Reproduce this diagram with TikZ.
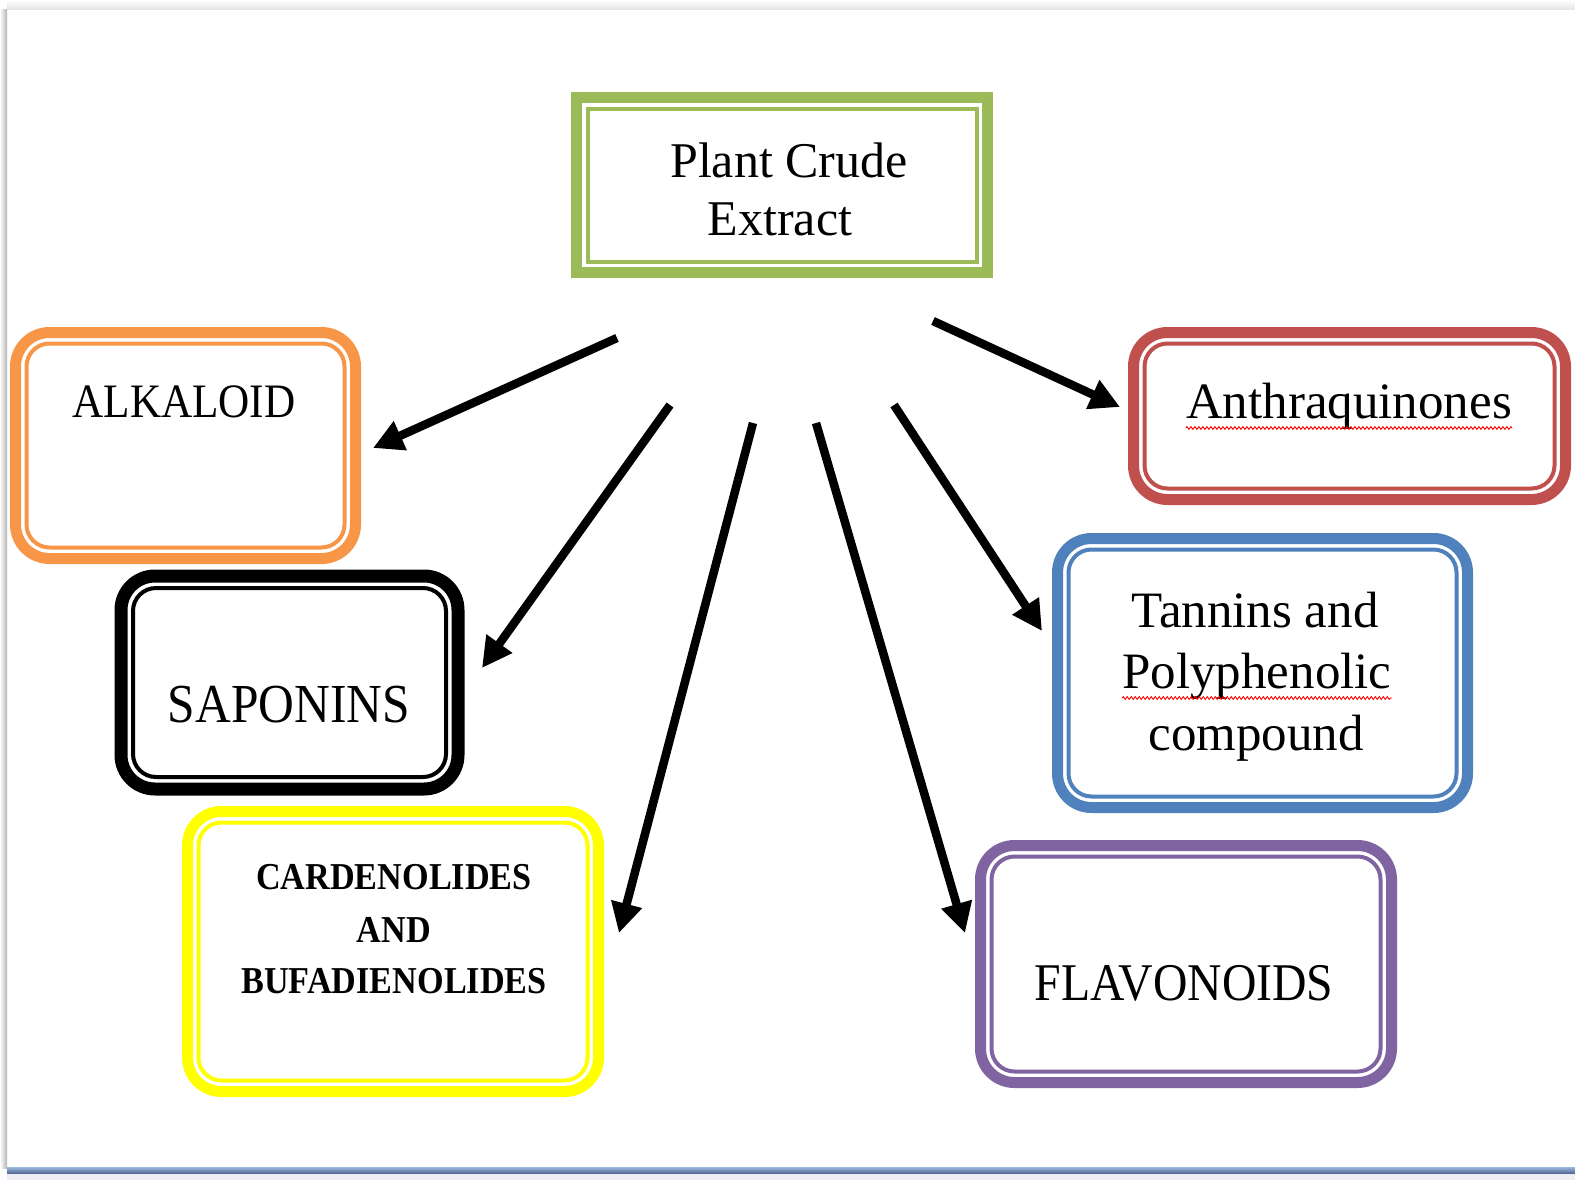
\documentclass[tikz,border=0pt]{standalone}
\usepackage{fontspec}
\setmainfont{Liberation Serif}
\newfontfamily\capsfont{Liberation Serif}[FakeStretch=0.9]
\usetikzlibrary{arrows.meta,decorations.pathmorphing}

\definecolor{cGreen}{HTML}{9BBB59}
\definecolor{cOrange}{HTML}{F79646}
\definecolor{cRed}{HTML}{C0504D}
\definecolor{cBlue}{HTML}{4F81BD}
\definecolor{cPurple}{HTML}{8064A2}
\definecolor{cYellow}{HTML}{FFFF00}
\definecolor{ruleLight}{HTML}{9DB9E0}
\definecolor{ruleDark}{HTML}{4A5F8A}
\definecolor{shelf}{HTML}{ECEEF3}

\tikzset{
  outerframe/.style={draw=#1, line width=11pt, rounded corners=34pt, inner sep=0pt, outer sep=0pt},
  innerframe/.style={draw=#1, line width=4pt, rounded corners=23pt},
  mixed/.style={font=\fontsize{#1}{#1}\selectfont, inner sep=0pt, anchor=base},
  capsT/.style={font=\capsfont\fontsize{#1}{#1}\selectfont, inner sep=0pt, anchor=base},
  capsB/.style={font=\capsfont\bfseries\fontsize{#1}{#1}\selectfont, inner sep=0pt, anchor=base},
  arr/.style={line width=8.5pt, -{Triangle[length=30pt,width=30pt]}},
  squig/.style={draw=red, line width=0.9pt, decorate,
    decoration={zigzag, segment length=4pt, amplitude=1.4pt}},
}

\begin{document}
\begin{tikzpicture}[x=1pt, y=-1pt]
  \useasboundingbox (0,0) rectangle (1575,1184);
  \fill[white] (0,0) rectangle (1575,1184);
  % page edges
  \shade[top color=white, bottom color=black!10] (7,0) rectangle (1575,9);
  \shade[left color=white, right color=black!30] (0,9) rectangle (7,1168);
  \shade[top color=ruleLight, bottom color=ruleDark] (7,1167) rectangle (1575,1174);
  \fill[shelf] (7,1174) rectangle (1575,1180);

  % source box
  \node[outerframe=cGreen, rounded corners=0pt, minimum width=411pt, minimum height=175pt] (src) at (782,185) {};
  \draw[innerframe=cGreen, rounded corners=0pt] ([xshift=11pt,yshift=-11pt]src.north west) rectangle ([xshift=-11pt,yshift=11pt]src.south east);
  \node[mixed=50] (srcA) at (789,177) {Plant Crude};
  \node[mixed=50] (srcB) at (780,235) {Extract};

  % class boxes
  \node[outerframe=cOrange, minimum width=340pt, minimum height=226pt] (alk) at (185.5,445.5) {};
  \draw[innerframe=cOrange] ([xshift=11pt,yshift=-11pt]alk.north west) rectangle ([xshift=-11pt,yshift=11pt]alk.south east);
  \node[capsT=48] (alkT) at (184,417) {ALKALOID};

  \node[outerframe=black, line width=13pt, minimum width=337pt, minimum height=213pt] (sap) at (289.5,682.5) {};
  \draw[innerframe=black] ([xshift=12pt,yshift=-12pt]sap.north west) rectangle ([xshift=-12pt,yshift=12pt]sap.south east);
  \node[capsT=55] (sapT) at (289,722) {SAPONINS};

  \node[outerframe=cYellow, minimum width=411pt, minimum height=280pt] (car) at (393,951.5) {};
  \draw[innerframe=cYellow] ([xshift=11pt,yshift=-11pt]car.north west) rectangle ([xshift=-11pt,yshift=11pt]car.south east);
  \node[capsB=38] (carA) at (394,889) {CARDENOLIDES};
  \node[capsB=38] (carB) at (394,942) {AND};
  \node[capsB=38] (carC) at (394,993) {BUFADIENOLIDES};

  \node[outerframe=cRed, minimum width=432pt, minimum height=167pt] (ant) at (1349.5,416) {};
  \draw[innerframe=cRed] ([xshift=11pt,yshift=-11pt]ant.north west) rectangle ([xshift=-11pt,yshift=11pt]ant.south east);
  \node[mixed=51] (antT) at (1349,418) {Anthraquinones};
  \draw[squig] ([yshift=-10pt]antT.base west) -- ([yshift=-10pt]antT.base east);

  \node[outerframe=cBlue, minimum width=410pt, minimum height=269pt] (tan) at (1262.5,673) {};
  \draw[innerframe=cBlue] ([xshift=11pt,yshift=-11pt]tan.north west) rectangle ([xshift=-11pt,yshift=11pt]tan.south east);
  \node[mixed=51] (tanA) at (1255,627) {Tannins and};
  \node[mixed=51] (tanB) at (1257,688) {Polyphenolic};
  \node[mixed=51] (tanC) at (1256,750) {compound};
  \draw[squig] ([yshift=-10pt]tanB.base west) -- ([yshift=-10pt]tanB.base east);

  \node[outerframe=cPurple, minimum width=411pt, minimum height=237pt] (fla) at (1186,964) {};
  \draw[innerframe=cPurple] ([xshift=11pt,yshift=-11pt]fla.north west) rectangle ([xshift=-11pt,yshift=11pt]fla.south east);
  \node[capsT=53] (flaT) at (1184,1000) {FLAVONOIDS};

  % arrow ends
  \coordinate (s1) at (617,338);  \coordinate (t1) at (373,448);
  \coordinate (s2) at (670,405);  \coordinate (t2) at (482,668);
  \coordinate (s3) at (753,423);  \coordinate (t3) at (619,933);
  \coordinate (s4) at (816,423);  \coordinate (t4) at (965,933);
  \coordinate (s5) at (894,405);  \coordinate (t5) at (1042,631);
  \coordinate (s6) at (933,321);  \coordinate (t6) at (1120,407);

  \draw[arr] (s1) -- (t1);
  \draw[arr] (s2) -- (t2);
  \draw[arr] (s3) -- (t3);
  \draw[arr] (s4) -- (t4);
  \draw[arr] (s5) -- (t5);
  \draw[arr] (s6) -- (t6);
\end{tikzpicture}
\end{document}
